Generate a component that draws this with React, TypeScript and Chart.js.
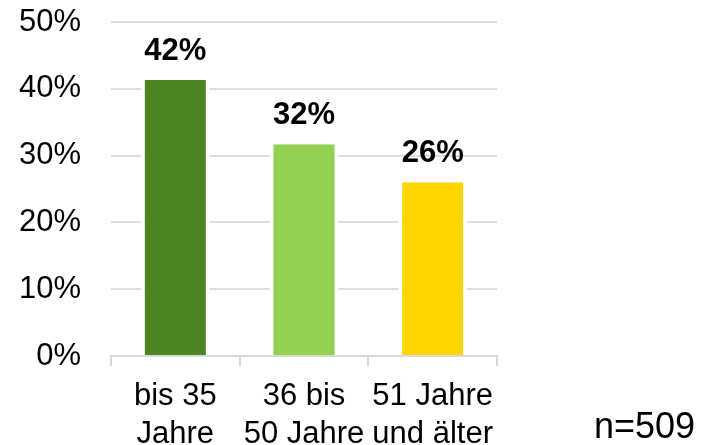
import React, { useEffect, useRef } from "react";
import { Chart, registerables } from "chart.js";

Chart.register(...registerables);

const categories: string[][] = [
  ["bis 35", "Jahre"],
  ["36 bis", "50 Jahre"],
  ["51 Jahre", "und älter"],
];
const values: number[] = [41.3, 31.7, 26.0];
const valueLabels: string[] = ["42%", "32%", "26%"];
const barColors: string[] = ["#4b8620", "#92d050", "#ffd500"];
const yTicks: number[] = [0, 10, 20, 30, 40, 50];
const sampleNote = "n=509";

const FONT = "'Liberation Sans', Arial, sans-serif";

export default function App() {
  const ref = useRef<HTMLCanvasElement | null>(null);

  useEffect(() => {
    if (!ref.current) return;
    const labelPlugin = {
      id: "valueLabels",
      afterDatasetsDraw(chart: any) {
        const ctx = chart.ctx;
        const meta = chart.getDatasetMeta(0);
        ctx.save();
        ctx.font = `bold 31px ${FONT}`;
        ctx.fillStyle = "#000";
        ctx.textAlign = "center";
        ctx.textBaseline = "alphabetic";
        meta.data.forEach((bar: any, i: number) => {
          ctx.fillText(valueLabels[i], bar.x, bar.y - 20);
        });
        ctx.font = `36px ${FONT}`;
        ctx.textAlign = "left";
        ctx.fillText(sampleNote, 594, 438);
        ctx.restore();
      },
    };

    const chart = new Chart(ref.current, {
      type: "bar",
      data: {
        labels: categories,
        datasets: [
          {
            data: values,
            backgroundColor: barColors,
            borderColor: "#ffffff",
            borderWidth: { top: 0, left: 4, right: 4, bottom: 0 },
            borderSkipped: "start",
            barPercentage: 0.536,
            categoryPercentage: 1,
          },
        ],
      },
      options: {
        responsive: false,
        animation: false,
        layout: { padding: { top: 22, right: 214, bottom: 0, left: 0 } },
        plugins: {
          legend: { display: false },
          tooltip: { enabled: false },
        },
        scales: {
          x: {
            offset: true,
            grid: {
              drawOnChartArea: false,
              drawTicks: true,
              tickLength: 10,
              color: "#d9d9d9",
              lineWidth: 2,
            },
            border: { display: true, color: "#d9d9d9", width: 2 },
            ticks: {
              color: "#000",
              font: { family: FONT, size: 31, lineHeight: 1.226 },
              padding: 11,
              maxRotation: 0,
              autoSkip: false,
            },
            afterFit: (scale: any) => {
              scale.height = 89;
              scale.paddingLeft = 0;
              scale.paddingRight = 0;
            },
          },
          y: {
            min: 0,
            max: 50,
            afterBuildTicks: (scale: any) => {
              scale.ticks = yTicks.map((v) => ({ value: v }));
            },
            grid: {
              drawTicks: false,
              color: "#dedede",
              lineWidth: 2,
            },
            border: { display: false },
            ticks: {
              color: "#000",
              font: { family: FONT, size: 31 },
              padding: 30,
              callback: (v: any) => `${v}%`,
            },
            afterFit: (scale: any) => {
              scale.width = 111;
              scale.paddingTop = 0;
              scale.paddingBottom = 0;
            },
          },
        },
      },
      plugins: [labelPlugin],
    } as any);

    return () => chart.destroy();
  }, []);

  return (
    <div style={{ position: "absolute", left: 0, top: 0, width: 711, height: 445, background: "#fff" }}>
      <canvas ref={ref} width={711} height={445} style={{ display: "block" }} />
    </div>
  );
}
